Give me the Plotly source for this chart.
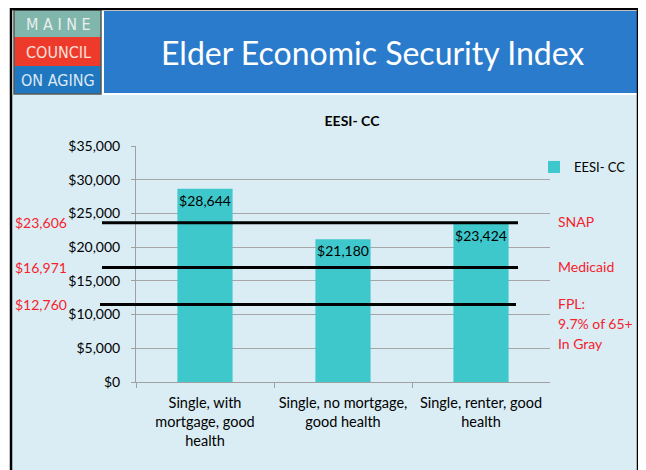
import plotly.graph_objects as go

# the page puts the figure 8px in from the top-left corner, so the
# figure is 8px smaller and every reference pixel is shifted by 8
OFF = 8
W, H = 646 - OFF, 470 - OFF

categories = ["Single, with<br>mortgage, good<br>health",
              "Single, no mortgage,<br>good health",
              "Single, renter, good<br>health"]
eesi_values = [28644, 21180, 23424]
series_name = "EESI- CC"

# threshold labels and where the slide actually draws each line
ref_names = [["SNAP"], ["Medicaid"], ["FPL:", "9.7% of 65+", "In Gray"]]
ref_values = [23606, 16971, 12760]
ref_line_levels = [23606, 16971, 11500]

y_ticks = [0, 5000, 10000, 15000, 20000, 25000, 30000, 35000]
y_tick_text = ["${:,}".format(v) for v in y_ticks]


def px(x):
    return (x - OFF) / W


def py(y):
    return 1 - (y - OFF) / H


font_main = "Lato, Carlito, 'Open Sans', sans-serif"
red = "#f5222d"
teal = "#3fc8cc"
light_bg = "#daedf4"

fig = go.Figure()
fig.add_trace(go.Bar(
    x=categories, y=eesi_values, name=series_name,
    marker=dict(color=teal, line=dict(width=0)),
    width=0.4,
    text=["${:,}".format(v) for v in eesi_values],
    textposition="inside", insidetextanchor="end", textangle=0,
    textfont=dict(color="black", size=14, family=font_main),
))

shapes = []
# slide background + header
shapes.append(dict(type="rect", xref="paper", yref="paper", x0=px(12), x1=px(637), y0=py(480), y1=py(95),
                   fillcolor=light_bg, line=dict(width=0), layer="below"))
shapes.append(dict(type="rect", xref="paper", yref="paper", x0=px(104), x1=px(637), y0=py(93), y1=py(11),
                   fillcolor="#2b7bcc", line=dict(width=0), layer="below"))
band_cols = ["#80b6ab", "#ee3a2b", "#1f77c0"]
band_y = [10, 37, 66, 94]
for i, c in enumerate(band_cols):
    shapes.append(dict(type="rect", xref="paper", yref="paper", x0=px(14), x1=px(101),
                       y0=py(band_y[i + 1]), y1=py(band_y[i]),
                       fillcolor=c, line=dict(width=0), layer="below"))
shapes.append(dict(type="rect", xref="paper", yref="paper", x0=px(14), x1=px(101), y0=py(94), y1=py(10),
                   fillcolor="rgba(0,0,0,0)", line=dict(width=1.5, color="#4d5a57"), layer="below"))
# outer frame
shapes.append(dict(type="rect", xref="paper", yref="paper", x0=px(11), x1=px(638), y0=py(490), y1=py(9),
                   fillcolor="rgba(0,0,0,0)", line=dict(width=2.5, color="black"), layer="above"))

# threshold lines
line_starts = [102, 102, 100]
line_ends = [518, 518, 516]
for v, x0, x1 in zip(ref_line_levels, line_starts, line_ends):
    shapes.append(dict(type="line", xref="paper", yref="y", x0=px(x0), x1=px(x1), y0=v, y1=v,
                       line=dict(color="black", width=3), layer="above"))

annotations = []
annotations.append(dict(xref="paper", yref="paper", x=px(372), y=py(53), text="Elder Economic Security Index",
                        showarrow=False, font=dict(color="white", size=32, family=font_main),
                        xanchor="center", yanchor="middle"))
logo_font = "'DejaVu Sans Condensed', 'Liberation Sans Narrow', 'Roboto Condensed', Roboto, sans-serif"
for txt, yy, col in [("M A I N E", 24, "#e8f0ee"), ("COUNCIL", 52, "#fde0dc"), ("ON AGING", 80, "#dde9f5")]:
    annotations.append(dict(xref="paper", yref="paper", x=px(58), y=py(yy), text=txt, showarrow=False,
                            font=dict(color=col, size=16, family=logo_font, weight=300),
                            xanchor="center", yanchor="middle"))

for v, lv in zip(ref_values, ref_line_levels):
    annotations.append(dict(xref="paper", yref="y", x=px(69), y=lv, text="${:,}".format(v), showarrow=False,
                            font=dict(color=red, size=14, family=font_main), xanchor="right", yanchor="middle"))
for lines, lv in zip(ref_names, ref_line_levels):
    for k, txt in enumerate(lines):
        annotations.append(dict(xref="paper", yref="y", x=px(556), y=lv, yshift=1 - 20 * k, text=txt,
                                showarrow=False, align="left", font=dict(color=red, size=14, family=font_main),
                                xanchor="left", yanchor="middle"))

fig.update_layout(
    width=W, height=H,
    margin=dict(l=0, r=0, t=0, b=0, autoexpand=False),
    paper_bgcolor="white", plot_bgcolor=light_bg,
    font=dict(family=font_main, size=13, color="black"),
    title=dict(text="<b>EESI- CC</b>", x=px(352), y=py(121), xanchor="center", yanchor="middle",
               font=dict(size=14, family=font_main, color="black")),
    showlegend=True,
    legend=dict(x=px(534), y=py(167), xanchor="left", yanchor="middle", bgcolor="rgba(0,0,0,0)",
                itemwidth=30, font=dict(size=13, family=font_main)),
    uniformtext=dict(minsize=14, mode="show"),
    shapes=shapes, annotations=annotations,
    xaxis=dict(domain=[px(136), px(550)], automargin=False, showline=True, linecolor="#a0a0a0", linewidth=1,
               ticks="outside", ticklen=5, tickcolor="#a0a0a0", tickson="boundaries",
               showgrid=False, ticklabelstandoff=8, tickfont=dict(size=14.5)),
    yaxis=dict(domain=[py(382), py(146)], automargin=False, range=[0, 35000],
               tickvals=y_ticks, ticktext=y_tick_text,
               showline=True, linecolor="#a0a0a0", linewidth=1, ticks="outside", ticklen=4, tickcolor="#a0a0a0",
               showgrid=True, gridcolor="#a6a6a6", gridwidth=1, zeroline=False,
               ticklabelstandoff=8, tickfont=dict(size=14)),
)

fig.write_html("out.html")
